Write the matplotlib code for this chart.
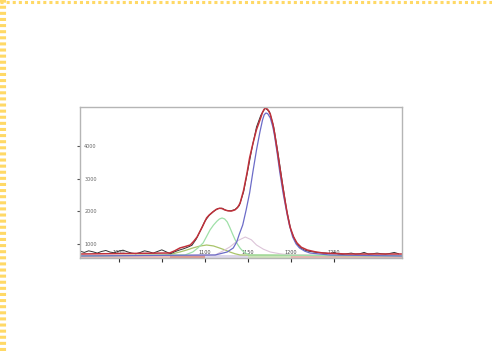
"""
Peak fit of a spectrum: measured data, total fit and fitted components.
"""

import matplotlib.pyplot as plt
from matplotlib.lines import Line2D

# --- data ------------------------------------------------------------------
fit_x = [955, 1059, 1065, 1071, 1077, 1083, 1087, 1091, 1094, 1097, 1100, 1102,
         1105, 1109, 1113, 1117, 1120, 1123, 1127, 1131, 1135, 1138, 1141, 1145,
         1149, 1152, 1156, 1160, 1164, 1167, 1169, 1171, 1173, 1176, 1179, 1181,
         1184, 1187, 1190, 1193, 1196, 1199, 1203, 1207, 1212, 1219, 1228, 1237,
         1265, 1329]
fit_y = [692, 723, 790, 877, 920, 969, 1080, 1215, 1370, 1523, 1690, 1800,
         1890, 1980, 2060, 2100, 2090, 2050, 2020, 2015, 2050, 2120, 2260, 2650,
         3185, 3650, 4108, 4520, 4815, 5050, 5150, 5185, 5140, 5000, 4700, 4415,
         3900, 3369, 2850, 2354, 1900, 1523, 1220, 1031, 900, 815, 760, 723,
         692, 692]

main_x = [955, 1112, 1126, 1133, 1137, 1140, 1144, 1148, 1152, 1156, 1160, 1164,
          1167, 1169, 1171, 1173, 1176, 1179, 1181, 1184, 1187, 1191, 1195, 1198,
          1202, 1206, 1210, 1216, 1222, 1245, 1329]
main_y = [631, 662, 754, 877, 1062, 1300, 1585, 2050, 2569, 3250, 3892, 4450,
          4815, 4980, 5031, 5010, 4880, 4600, 4323, 3800, 3215, 2550, 1985, 1600,
          1215, 1000, 877, 780, 723, 662, 631]

shoulder_x = [955, 1077, 1086, 1092, 1098, 1102, 1106, 1110, 1114, 1117, 1120,
              1123, 1126, 1129, 1132, 1135, 1138, 1141, 1144, 1148, 1152, 1329]
shoulder_y = [631, 662, 754, 880, 1031, 1230, 1431, 1580, 1700, 1770, 1800,
              1770, 1680, 1510, 1320, 1140, 990, 870, 785, 710, 662, 631]

broad_x = [955, 1053, 1063, 1071, 1079, 1086, 1094, 1102, 1110, 1117, 1124, 1129,
           1135, 1141, 1329]
broad_y = [631, 662, 700, 754, 815, 877, 935, 969, 940, 877, 810, 754,
           700, 662, 631]

faint_x = [955, 1112, 1122, 1129, 1138, 1147, 1154, 1160, 1168, 1176, 1187, 1199, 1329]
faint_y = [631, 662, 800, 908, 1100, 1215, 1130, 969, 840, 754, 700, 662, 631]

data_x = [955, 960, 965, 970, 975, 980, 985, 990, 995, 1000, 1005, 1010, 1015,
          1020, 1025, 1030, 1035, 1040, 1045, 1050, 1055, 1060, 1065, 1070,
          1075, 1080, 1085, 1090, 1095, 1100, 1105, 1110, 1115, 1120, 1125,
          1130, 1135, 1140, 1145, 1150, 1155, 1160, 1165, 1170, 1175, 1180,
          1185, 1190, 1195, 1200, 1205, 1210, 1215, 1220, 1225, 1230, 1235,
          1240, 1245, 1250, 1255, 1260, 1265, 1270, 1275, 1280, 1285, 1290,
          1295, 1300, 1305, 1310, 1315, 1320, 1325]
data_y = [780, 740, 790, 760, 720, 770, 800, 750, 730, 780, 810, 760, 720,
          700, 740, 790, 760, 720, 770, 820, 760, 700, 760, 810, 850, 900, 960,
          1150, 1420, 1700, 1880, 2000, 2090, 2100, 2030, 2020, 2060, 2180,
          2600, 3280, 3980, 4600, 4960, 5180, 5080, 4600, 3800, 2900, 2050,
          1420, 1100, 900, 820, 780, 760, 740, 730, 720, 700, 740, 690, 680,
          700, 720, 690, 700, 740, 690, 700, 720, 700, 690, 710, 740, 700]

# coloured strip under the curves
band_edges = [955, 1060, 1100, 1150, 1200, 1329]
band_colors = ['#ecbcb6', '#dc9890', '#dcd6ea', '#cde2bb', '#e8b6b0']

x_ticks = [1000, 1050, 1100, 1150, 1200, 1250]
x_labels = ['1000', '', '1100', '1150', '1200', '1250']
y_ticks = [1000, 2000, 3000, 4000]
y_labels = ['1000', '2000', '3000', '4000']

# --- figure -----------------------------------------------------------------
fig = plt.figure(figsize=(4.92, 3.51), dpi=100)
ax = fig.add_axes([80 / 492, 1 - 258 / 351, 322 / 492, 151 / 351])

for i, c in enumerate(band_colors):
    ax.fill_between([band_edges[i], band_edges[i + 1]], 569, 660, color=c, lw=0)

ax.plot(broad_x, broad_y, color='#a9c46a', lw=0.9)
ax.plot(faint_x, faint_y, color='#dcc4d8', lw=0.8)
ax.plot(shoulder_x, shoulder_y, color='#9fe0a8', lw=0.9)
ax.plot(data_x, data_y, color='#333333', lw=0.7)
ax.plot(main_x, main_y, color='#6c6cc8', lw=0.9)
ax.plot(fit_x, fit_y, color='#c0303a', lw=1.1)

ax.set_xlim(955, 1329)
ax.set_ylim(569, 5215)

ax.set_xticks(x_ticks)
ax.set_xticklabels(x_labels)
ax.set_yticks(y_ticks)
ax.set_yticklabels(y_labels)
ax.tick_params(axis='x', direction='out', length=3, width=0.8, color='#333333',
               pad=-9, labelsize=3.5, labelcolor='#444444')
ax.tick_params(axis='y', direction='out', length=2, width=0.8, color='#555555',
               pad=-14, labelsize=3.5, labelcolor='#666666')
for lab in ax.get_xticklabels():
    lab.set_bbox(dict(facecolor='white', edgecolor='none', pad=0.3, alpha=0.8))
for sp in ax.spines.values():
    sp.set_color('#b5b5b5')
    sp.set_linewidth(1.0)

# yellow dotted border along top and left of the screenshot
fig.add_artist(Line2D([0, 1], [1 - 1.5 / 351, 1 - 1.5 / 351], transform=fig.transFigure,
                      color='#ffd966', lw=2.2, ls=(0, (1, 1))))
fig.add_artist(Line2D([3 / 492, 3 / 492], [0, 1], transform=fig.transFigure,
                      color='#ffd966', lw=4.4, ls=(0, (0.5, 0.5))))

fig.savefig('out.png', dpi=100)
